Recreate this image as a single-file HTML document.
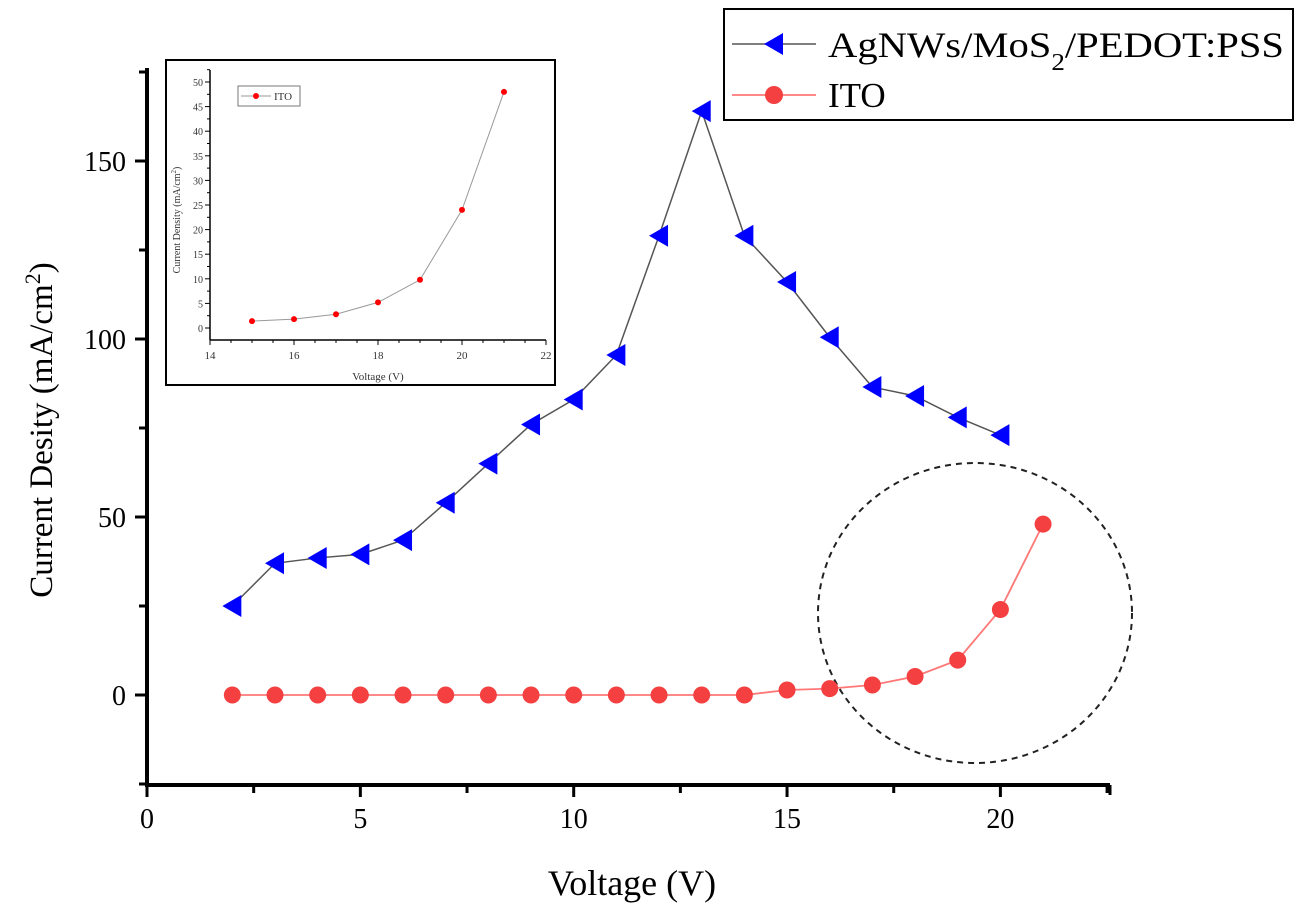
<!DOCTYPE html>
<html><head><meta charset="utf-8"><style>
body{margin:0;background:#fff}
svg{display:block;font-family:"Liberation Serif",serif}
</style></head><body>
<svg width="1302" height="917" viewBox="0 0 1302 917">
<g id="main"></g>
<g id="inset"></g>
</svg>
<script>
const voltsA=[2,3,4,5,6,7,8,9,10,11,12,13,14,15,16,17,18,19,20];
const agnw=[25,37,38.5,39.5,43.5,54,65,76,83,95.5,129,164,129,116,100.5,86.5,84,78,73];
const voltsB=[2,3,4,5,6,7,8,9,10,11,12,13,14,15,16,17,18,19,20,21];
const ito=[0,0,0,0,0,0,0,0,0,0,0,0,0,1.4,1.8,2.8,5.2,9.8,24,48];
const xTicks=[0,5,10,15,20];
const yTicks=[0,50,100,150];
const insetX=[15,16,17,18,19,20,21];
const insetY=[1.4,1.8,2.8,5.2,9.8,24,48];
const insetXTicks=[14,16,18,20,22];
const insetYTicks=[0,5,10,15,20,25,30,35,40,45,50];

const NS="http://www.w3.org/2000/svg";
function mk(tag,attrs,parent,txt){const e=document.createElementNS(NS,tag);for(const k in attrs)e.setAttribute(k,attrs[k]);if(txt!==undefined)e.textContent=txt;parent.appendChild(e);return e;}
const main=document.getElementById('main');
const X=v=>147+(v-0)*42.67, Y=v=>695-v*3.56;
let e;
e=mk('line',{x1:147,y1:785,x2:1110,y2:785,stroke:'#000','stroke-width':4},main);


e=mk('line',{x1:147,y1:68,x2:147,y2:787,stroke:'#000','stroke-width':4},main);


for(let v=0;v<=22.5;v+=2.5){const major=v%5===0;mk('line',{x1:X(v),y1:785,x2:X(v),y2:major?797:793,stroke:'#000','stroke-width':3},main);}
mk('line',{x1:1110,y1:785,x2:1110,y2:795,stroke:'#000','stroke-width':3},main);
xTicks.forEach(v=>{e=mk('text',{x:X(v),y:828,'font-size':28,'text-anchor':'middle'},main,v);

});
for(let v=-25;v<=175;v+=25){const major=v%50===0;mk('line',{x1:147,y1:Y(v),x2:major?135:139,y2:Y(v),stroke:'#000','stroke-width':3},main);}
yTicks.forEach(v=>{e=mk('text',{x:126,y:Y(v)+10,'font-size':28,'text-anchor':'end'},main,v);

});
e=mk('text',{x:632,y:895,'font-size':36,'text-anchor':'middle'},main,'Voltage (V)');


e=mk('text',{x:0,y:0,'font-size':33,'text-anchor':'middle',transform:'translate(52,430) rotate(-90)'},main);


e.innerHTML='Current Desity (mA/cm<tspan baseline-shift="super" font-size="22">2</tspan>)';
e=mk('ellipse',{cx:975,cy:613,rx:157,ry:150,fill:'none',stroke:'#222','stroke-width':2,'stroke-dasharray':'6 5'},main);


mk('polyline',{points:voltsA.map((v,i)=>X(v)+','+Y(agnw[i])).join(' '),fill:'none',stroke:'#555','stroke-width':1.5},main);
voltsA.forEach((v,i)=>{const x=X(v),y=Y(agnw[i]);e=mk('polygon',{points:`${x-10},${y} ${x+9},${y-11} ${x+9},${y+11}`,fill:'#0000ff'},main);

});
mk('polyline',{points:voltsB.map((v,i)=>X(v)+','+Y(ito[i])).join(' '),fill:'none',stroke:'#f77','stroke-width':1.8},main);
voltsB.forEach((v,i)=>{e=mk('circle',{cx:X(v),cy:Y(ito[i]),r:8.5,fill:'#f44040'},main);

});
const lg=mk('g',{},main);


mk('rect',{x:724,y:9,width:569,height:111,fill:'#fff',stroke:'#000','stroke-width':2},lg);
mk('line',{x1:732,y1:44,x2:816,y2:44,stroke:'#555','stroke-width':1.5},lg);
mk('polygon',{points:'764,44 783,33 783,55',fill:'#0000ff'},lg);
e=mk('text',{x:828,y:57,'font-size':36,textLength:456,lengthAdjust:'spacingAndGlyphs'},lg);


e.innerHTML='AgNWs/MoS<tspan baseline-shift="sub" font-size="24">2</tspan>/PEDOT:PSS';
mk('line',{x1:732,y1:95,x2:816,y2:95,stroke:'#f77','stroke-width':1.8},lg);
mk('circle',{cx:774,cy:95,r:9,fill:'#f44040'},lg);
e=mk('text',{x:828,y:107,'font-size':35},lg,'ITO');


const ins=document.getElementById('inset');
const IX=v=>210+(v-14)*42, IY=v=>328-v*4.92;
mk('rect',{x:166,y:60,width:389,height:325,fill:'#fff',stroke:'#000','stroke-width':2},ins);
mk('line',{x1:210,y1:340,x2:546,y2:340,stroke:'#000','stroke-width':1.5},ins);
mk('line',{x1:210,y1:70,x2:210,y2:340,stroke:'#000','stroke-width':1.5},ins);
for(let v=14;v<=22;v+=0.5){mk('line',{x1:IX(v),y1:340,x2:IX(v),y2:v%2===0?345:343,stroke:'#000','stroke-width':1},ins);}
insetXTicks.forEach(v=>mk('text',{x:IX(v),y:359,'font-size':11,'text-anchor':'middle',fill:'#333'},ins,v));
for(let v=0;v<=52.5;v+=2.5){mk('line',{x1:210,y1:IY(v),x2:v%5===0?205:207,y2:IY(v),stroke:'#000','stroke-width':1},ins);}
insetYTicks.forEach(v=>mk('text',{x:203,y:IY(v)+4,'font-size':10,'text-anchor':'end',fill:'#333'},ins,v));
mk('text',{x:378,y:380,'font-size':11,'text-anchor':'middle',fill:'#333'},ins,'Voltage (V)');
e=mk('text',{x:0,y:0,'font-size':10,'text-anchor':'middle',fill:'#333',transform:'translate(180,220) rotate(-90)'},ins);
e.innerHTML='Current Density (mA/cm<tspan baseline-shift="super" font-size="7">2</tspan>)';
mk('polyline',{points:insetX.map((v,i)=>IX(v)+','+IY(insetY[i])).join(' '),fill:'none',stroke:'#999','stroke-width':1},ins);
insetX.forEach((v,i)=>{e=mk('circle',{cx:IX(v),cy:IY(insetY[i]),r:3,fill:'#f00'},ins);

});
mk('rect',{x:238,y:86,width:62,height:20,fill:'#fff',stroke:'#777','stroke-width':1},ins);
mk('line',{x1:241,y1:96,x2:271,y2:96,stroke:'#999','stroke-width':1},ins);
mk('circle',{cx:256,cy:96,r:3,fill:'#f00'},ins);
mk('text',{x:274,y:100,'font-size':11,fill:'#333'},ins,'ITO');
</script>
</body></html>
